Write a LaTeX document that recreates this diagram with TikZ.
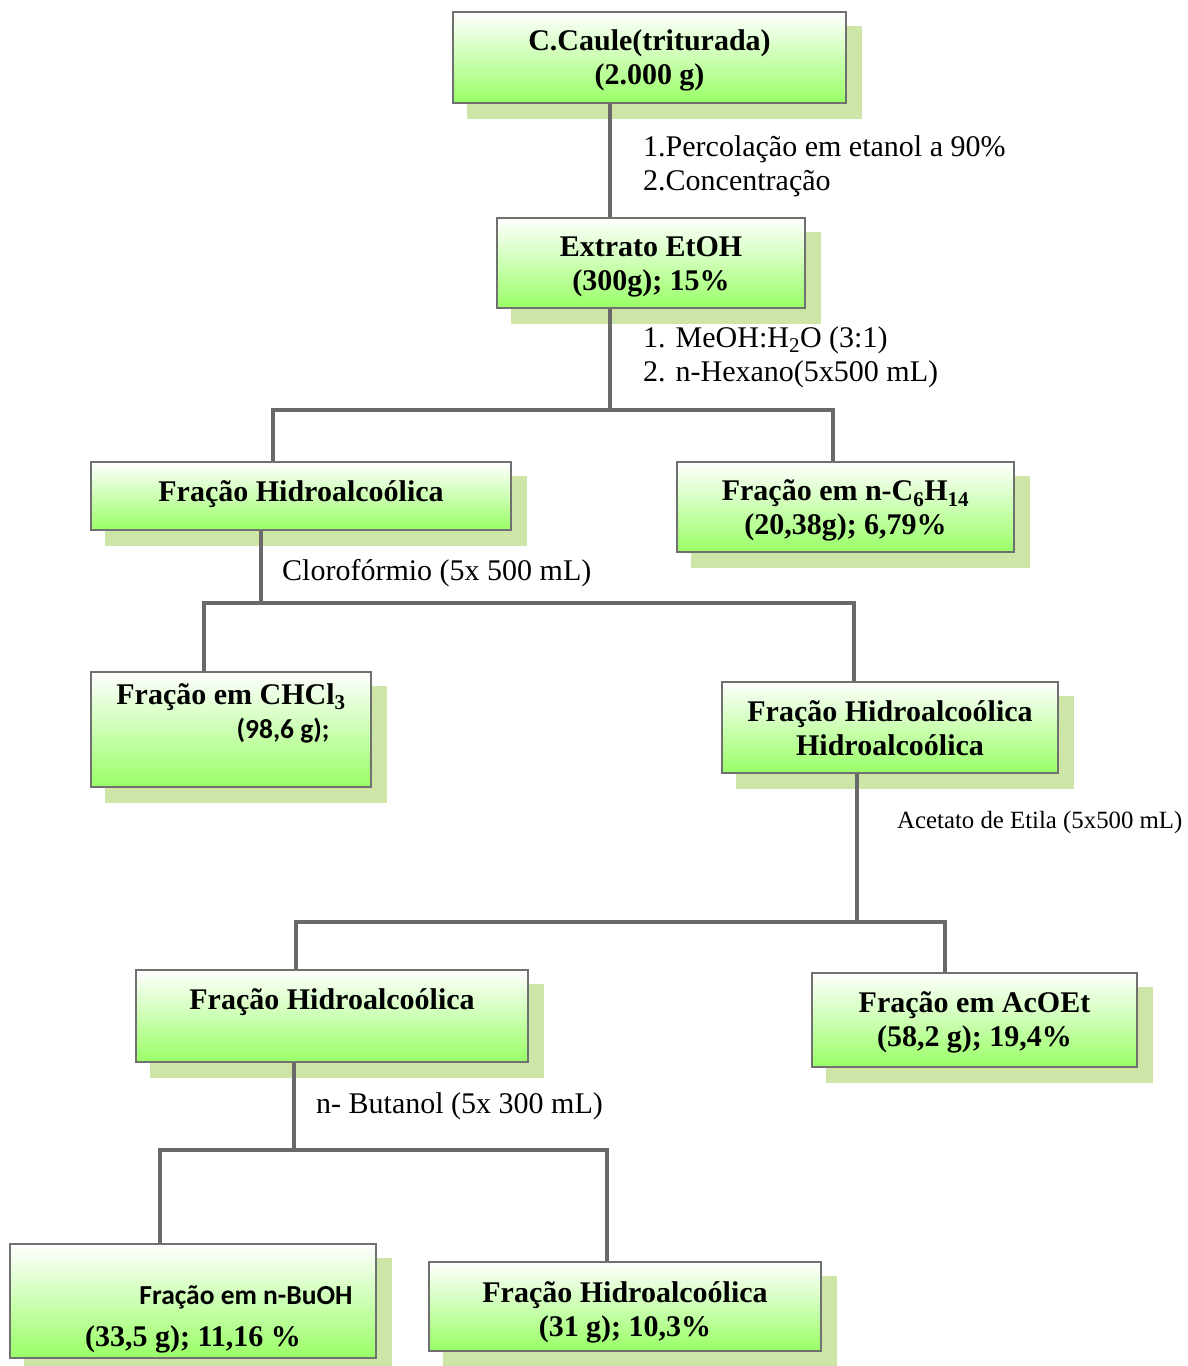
\documentclass[tikz,border=0pt]{standalone}
\usepackage{fontspec}
\setmainfont{Liberation Serif}
\newfontfamily\calibrifam{Carlito}
\usetikzlibrary{backgrounds}

\definecolor{boxgreen}{RGB}{153,255,102}
\definecolor{shadowgreen}{RGB}{205,230,168}
\definecolor{framegray}{RGB}{112,112,112}
\definecolor{linkgray}{RGB}{105,105,105}

\tikzset{
  box/.style={draw=framegray, line width=2.5pt, top color=white, bottom color=boxgreen,
    align=center, inner sep=0pt, font=\fontsize{30}{34}\selectfont\bfseries},
  conn/.style={draw=linkgray, line width=3.5pt},
  note/.style={anchor=west, inner sep=0pt, align=left, font=\fontsize{30}{34}\selectfont},
  boxshadow/.style={fill=shadowgreen, draw=none},
}
% bold sans text inside the boxes
\newcommand{\sansb}[1]{{\calibrifam\fontsize{27.5}{34}\selectfont\bfseries #1}}
% centred lines of a box, lowered by #1 without changing the box extent
\newcommand{\boxlines}[2]{\raisebox{-#1}[\height][\depth]{\begin{tabular}{@{}c@{}}#2\end{tabular}}}

\begin{document}
\begin{tikzpicture}[x=1pt, y=-1pt]
\useasboundingbox (0,0) rectangle (1187,1366);

% boxes
\node[box, minimum width=393pt, minimum height=91pt] (b1) at (649.5,57.5)
  {\boxlines{3pt}{C.Caule(triturada)\\(2.000 g)}};
\node[box, minimum width=308pt, minimum height=90pt] (b2) at (651,263)
  {\boxlines{3.5pt}{Extrato EtOH\\(300g); 15\%}};
\node[box, minimum width=420pt, minimum height=68pt] (b3) at (301,496)
  {\boxlines{-1pt}{Fração Hidroalcoólica}};
\node[box, minimum width=337pt, minimum height=90pt] (b4) at (845.5,507)
  {\boxlines{4pt}{Fração em n-C\textsubscript{6}H\textsubscript{14}\\(20,38g); 6,79\%}};
\node[box, minimum width=280pt, minimum height=115pt] (b5) at (231,729.5)
  {\boxlines{2pt}{Fração em CHCl\textsubscript{3}\\\hspace*{104pt}\sansb{(98,6 g);}\\~}};
\node[box, minimum width=336pt, minimum height=91pt] (b6) at (890,727.5)
  {\boxlines{4pt}{Fração Hidroalcoólica\\Hidroalcoólica}};
\node[box, minimum width=392pt, minimum height=92pt] (b7) at (332,1016)
  {\boxlines{4pt}{Fração Hidroalcoólica\\~}};
\node[box, minimum width=325pt, minimum height=94pt] (b8) at (974.5,1020)
  {\boxlines{2.5pt}{Fração em AcOEt\\(58,2 g); 19,4\%}};
\node[box, minimum width=366pt, minimum height=114pt] (b9) at (193,1301)
  {\boxlines{0.5pt}{~\\\hspace*{106pt}\sansb{Fração em n-BuOH}\\[8pt](33,5 g); 11,16 \%}};
\node[box, minimum width=392pt, minimum height=89pt] (b10) at (625,1306.5)
  {\boxlines{6pt}{Fração Hidroalcoólica\\(31 g); 10,3\%}};

% drop shadows behind the boxes
\begin{scope}[on background layer]
  \foreach \b in {b1,b2,b3,b4,b5,b6,b7,b8,b9,b10}
    \fill[boxshadow] ([shift={(15pt,-15pt)}]\b.south west) rectangle ([shift={(15pt,-15pt)}]\b.north east);
\end{scope}

% junction points of the connectors
\coordinate (ta) at (610,410);
\coordinate (taL) at (273,410);
\coordinate (taR) at (833,410);
\coordinate (tb) at (261,603);
\coordinate (tbL) at (204,603);
\coordinate (tbR) at (854,603);
\coordinate (tc) at (857,922);
\coordinate (tcL) at (296,922);
\coordinate (tcR) at (945,922);
\coordinate (td) at (294,1150);
\coordinate (tdL) at (160,1150);
\coordinate (tdR) at (607,1150);

% connectors
\draw[conn] (ta |- b1.south) -- (ta |- b2.north);
\draw[conn] (ta |- b2.south) -- (ta);
\draw[conn] (taL |- b3.north) -- (taL) -- (taR) -- (taR |- b4.north);
\draw[conn] (tb |- b3.south) -- (tb);
\draw[conn] (tbL |- b5.north) -- (tbL) -- (tbR) -- (tbR |- b6.north);
\draw[conn] (tc |- b6.south) -- (tc);
\draw[conn] (tcL |- b7.north) -- (tcL) -- (tcR) -- (tcR |- b8.north);
\draw[conn] (td |- b7.south) -- (td);
\draw[conn] (tdL |- b9.north) -- (tdL) -- (tdR) -- (tdR |- b10.north);

% step labels
\node[note] (s1) at (643,166) {1.Percolação em etanol a 90\%\\2.Concentração};
\node[note] (s2) at (643,357) {1. MeOH:H\textsubscript{2}O (3:1)\\2. n-Hexano(5x500 mL)};
\node[note] (s3) at (282,573) {Clorofórmio (5x 500 mL)};
\node[note, font=\fontsize{24.8}{30}\selectfont] (s4) at (897,823) {Acetato de Etila (5x500 mL)};
\node[note] (s5) at (316,1106) {n- Butanol (5x 300 mL)};
\end{tikzpicture}
\end{document}
